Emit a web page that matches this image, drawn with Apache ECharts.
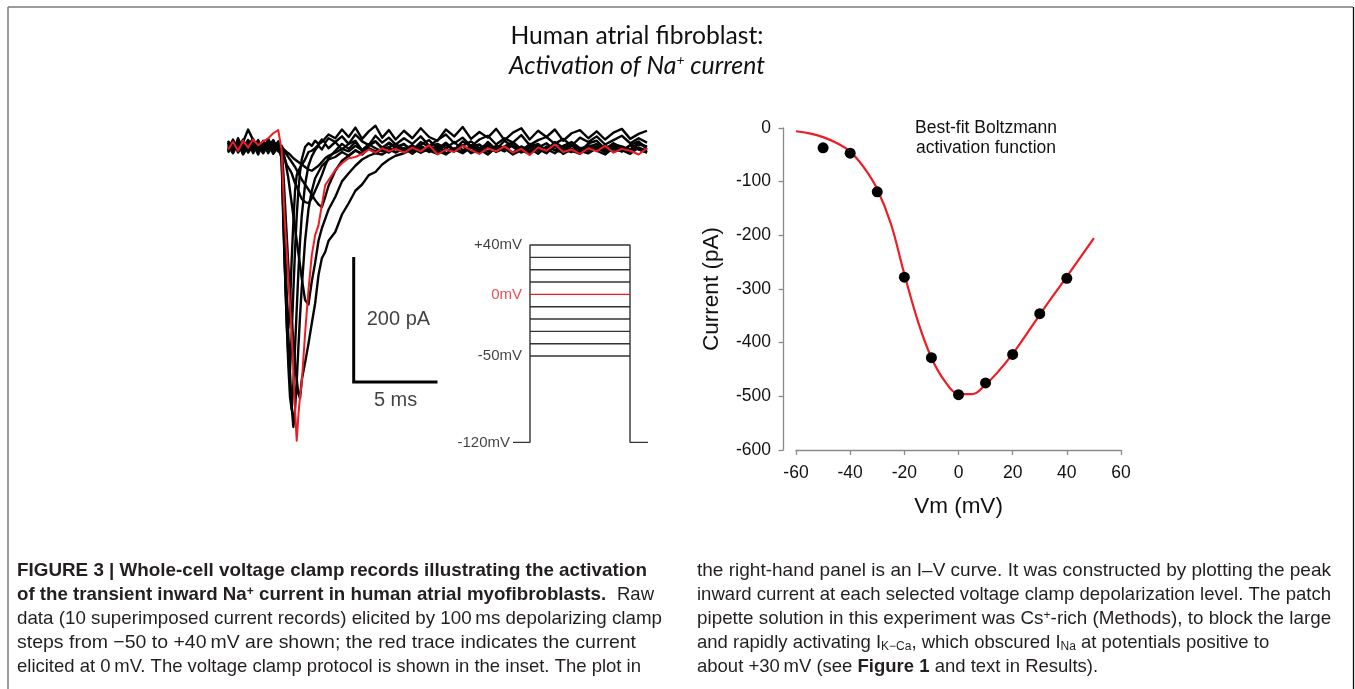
<!DOCTYPE html>
<html>
<head>
<meta charset="utf-8">
<title>Human atrial fibroblast: activation of Na+ current</title>
<script src="https://cdn.jsdelivr.net/npm/echarts@6/dist/echarts.min.js"></script>
<style>
  html, body { margin: 0; padding: 0; background: #fff; }
  #chart { width: 1355px; height: 689px; }
</style>
</head>
<body>
<div id="chart"></div>
<script>
// ---- raw current records (pA), sampled at TRACE_TIME_MS ----
const TRACE_TIME_MS = [0, 0.3, 0.6, 0.9, 1.2, 1.5, 1.8, 2.1, 2.4, 2.7, 3.0,
  3.2, 3.3, 3.4, 3.5, 3.6, 3.7, 3.8, 3.9, 4.0, 4.1, 4.2, 4.3, 4.4,
  4.6, 4.8, 5.0, 5.2, 5.4, 5.6, 5.8, 6.0,
  6.4, 6.8, 7.2, 7.6, 8.0, 8.4, 8.8, 9.2, 9.6, 10.0,
  10.5, 11, 11.5, 12, 12.5, 13, 13.5, 14, 14.5, 15, 15.5, 16, 16.5, 17, 17.5,
  18, 18.5, 19, 19.5, 20, 20.5, 21, 21.5, 22, 22.5, 23, 23.5, 24, 24.5, 25];

const CUR_P40 = [6, -9, 14, -4, 11, -10, 7, -6, 13, -3, 8,
  -20, -120, -200, -260, -290, -250, -180, -120, -70, -45, -38, -33, -30,
  -20, -8, -6, -2, 4, 8, 14, 20,
  14, 28, 16, 31, 13, 25, 34, 15, 27, 12,
  26, 14, 30, 16, 10, 28, 17, 32, 13, 24, 15, 29, 11, 23, 30, 12, 26, 16, 28, 10, 22, 27, 14, 25, 12, 23, 29, 13, 21, 26];
const CUR_P30 = [-7, 10, -3, 12, -9, 4, -12, 8, 0, 11, -5,
  -15, -110, -200, -280, -335, -357, -300, -230, -165, -110, -70, -40, -20,
  0, 6, 2, 10, 5, 12, 7, 14,
  8, 17, 5, 20, 9, 3, 18, 7, 15, 4,
  14, 5, 17, 2, 11, 20, 6, 15, 1, 12, 18, 4, 14, 7, 19, 3, 11, 16, 5, 13, 2, 15, 8, 17, 4, 11, 18, 6, 14, 7];
const CUR_P20 = [10, -4, 7, -12, 3, 13, -8, 5, -10, 4, -1,
  -10, -100, -190, -280, -350, -400, -420, -380, -320, -260, -200, -150, -110,
  -60, -30, -15, -5, 2, -4, 5, -2,
  8, -4, 5, 10, -6, 4, 9, -3, 7, 0,
  5, -8, 4, 11, -3, 7, -5, 9, 1, -7, 8, -4, 10, 0, -9, 5, 2, -5, 8, -1, 4, -8, 6, 10, -3, 5, -7, 3, 9, -4];
const CUR_P10 = [-3, 12, -9, 5, -5, 9, 2, -10, 8, -7, 4,
  -5, -80, -150, -230, -300, -360, -415, -448, -420, -375, -320, -270, -225,
  -150, -100, -70, -50, -40, -30, -25, -20,
  -16, -8, -14, -5, -12, -2, -10, -4, 0, -9,
  -2, -11, -1, -8, 2, -10, -4, 3, -9, -3, -12, 0, -6, 4, -8, -2, -11, 1, -5, -9, 2, -6, -10, -2, -8, 3, -5, -11, -1, -6];
const CUR_0 = [-4, 8, -6, 10, -1, 12, 3, 9, 14, 22, 27,
  -5, -69, -125, -165, -213, -253, -301, -357, -421, -470, -429, -398, -378,
  -298, -229, -173, -141, -125, -93, -61, -53,
  -37, -26, -18, -16, -11, -4, -9, -2, -7, -3,
  -9, -1, -7, 3, -12, -4, -8, 2, -5, -11, -2, -7, 1, -9, -3, -13, -1, -6, 4, -8, -4, -11, -2, -7, 2, -9, -3, -6, -12, -2];
const CUR_M10 = [7, -5, 10, -11, 1, -4, 11, -8, 5, -2, 9,
  -3, -40, -90, -140, -190, -235, -275, -310, -345, -372, -395, -402, -373,
  -345, -315, -282, -250, -205, -178, -168, -150,
  -136, -108, -90, -70, -60, -45, -40, -28, -20, -14,
  -10, -3, -9, 1, -6, -12, -2, -8, 3, -4, -11, -1, -7, 4, -6, -10, -2, -7, 2, -11, -3, -8, 1, -6, -12, -1, -7, 3, -4, -9];
const CUR_M20 = [-9, 4, -2, 8, 28, 11, -6, 3, -4, 10, -7,
  0, -10, -20, -35, -50, -70, -90, -110, -130, -150, -170, -190, -210,
  -245, -252, -215, -185, -150, -130, -115, -100,
  -80, -55, -42, -30, -20, -14, -10, -12, -5, -8,
  -2, -9, 2, -6, -11, -3, -7, 3, -10, -4, 1, -8, -2, -12, -5, 2, -7, -3, -10, 1, -6, -11, -1, -4, 3, -8, -3, -7, -1, -9];
const CUR_M30 = [3, -10, 6, -1, 11, -5, 8, -9, 4, -6, 1,
  0, -4, -8, -12, -16, -20, -24, -28, -32, -37, -42, -47, -52,
  -60, -68, -76, -85, -92, -96, -80, -62,
  -38, -22, -14, -6, -10, -2, -7, -4, -9, -1,
  -6, 1, -9, -3, -7, 3, -4, -10, -1, -8, 4, -5, -2, -9, 1, -7, -3, -10, 2, -4, -8, -2, -6, 1, -9, -3, -7, 3, -4, -8];
const CUR_M40 = [-5, 9, -1, 5, -8, 2, 10, -4, 6, -11, 0,
  0, -10, -20, -28, -33, -37, -42, -50, -58, -63, -70, -77, -83,
  -88, -90, -82, -70, -58, -45, -30, -18,
  -6, 5, -3, 8, -5, 2, 9, -1, 6, -2,
  4, -5, 8, 0, -4, 6, -7, 2, 9, -2, 5, -6, 1, 8, -4, 3, -1, 6, -5, 2, 8, -2, 0, 5, -6, 4, 1, -4, 7, 0];
const CUR_M50 = [8, -2, 4, -9, 6, 0, -5, 10, -1, 5, -4,
  2, -3, -6, -8, -10, -12, -15, -18, -20, -22, -24, -26, -28,
  -32, -36, -38, -34, -30, -24, -18, -14,
  -9, -3, -7, 2, -5, 4, -2, -7, 0, 5,
  -4, 3, -6, 1, 5, -2, 8, -5, 0, 4, -7, 2, -1, 6, -4, 0, 5, -6, 1, -2, 4, -5, 3, 0, -4, 6, -1, -5, 4, 1];

// black records first, the 0 mV record (red) drawn last
const BLACK_TRACES = [CUR_P40, CUR_P30, CUR_P20, CUR_P10, CUR_M10, CUR_M20, CUR_M30, CUR_M40, CUR_M50];
const RED_TRACE = CUR_0;

// scale bar
const SCALE_PA = 200;
const SCALE_MS = 5;

// voltage clamp protocol (inset)
const HOLD_MV = -120;
const STEP_LEVELS_MV = [-50, -40, -30, -20, -10, 0, 10, 20, 30, 40];
const PROTOCOL_T = [0, 17, 117, 135];   // sweep start, step on, step off, sweep end (ms)
const PROTOCOL_LABELS_MV = [40, 0, -50, -120];

// I-V relation
const IV_VM = [-50, -40, -30, -20, -10, 0, 10, 20, 30, 40];
const IV_PEAK_PA = [-37, -47, -119, -278, -428, -497, -475, -422, -346, -280];
// best-fit Boltzmann curve
const FIT_VM = [-60, -55, -50, -45, -40, -35, -30, -25, -20, -15, -10, -5, 0, 5, 10, 15, 20, 25, 30, 35, 40, 45, 50];
const FIT_PA = [-6, -10, -17, -28, -44, -73, -114, -178, -272, -360, -428, -472, -495, -496, -478, -452, -421, -385, -348, -312, -277, -241, -205];

const X_TICKS = { min: -60, max: 60, step: 20 };
const Y_TICKS = { min: -600, max: 0, step: 100 };

// ---- styling ----
const FONT = '"Liberation Sans", Arial, Helvetica, sans-serif';
const TITLE_FONT = 'Lato, "Open Sans", sans-serif';
const RED = '#ee1c24';
const AXIS_GRAY = '#8a8a8a';
const TEXT = '#231f20';
const CAP_SIZE = 18.5;

const zip = (xs, ys) => xs.map((x, i) => [x, ys[i]]);

const measureCtx = document.createElement('canvas').getContext('2d');
function textWidth(str, font) {
  measureCtx.font = font;
  return measureCtx.measureText(str).width;
}
// squeeze/stretch a text line so it spans the same width as in the figure
function fitScale(str, font, target) {
  return target / textWidth(str, font);
}

const chart = echarts.init(document.getElementById('chart'));

const traceSeries = BLACK_TRACES.map(values => ({
  type: 'line', xAxisIndex: 0, yAxisIndex: 0,
  data: zip(TRACE_TIME_MS, values),
  symbol: 'none', silent: true,
  lineStyle: { color: '#050505', width: 2.4, join: 'round' }
}));
traceSeries.push({
  type: 'line', xAxisIndex: 0, yAxisIndex: 0,
  data: zip(TRACE_TIME_MS, RED_TRACE),
  symbol: 'none', silent: true, z: 3,
  lineStyle: { color: RED, width: 2, join: 'round' }
});

// scale bar corner in trace coordinates
const SB_T = 7.5, SB_I = -376;

const scaleBarSeries = [
  {
    type: 'line', xAxisIndex: 0, yAxisIndex: 0, symbol: 'none', silent: true,
    data: [[SB_T, SB_I + SCALE_PA], [SB_T, SB_I], [SB_T + SCALE_MS, SB_I]],
    lineStyle: { color: '#000', width: 3, join: 'miter', cap: 'butt' }
  },
  {
    type: 'scatter', xAxisIndex: 0, yAxisIndex: 0, symbolSize: 0, silent: true,
    data: [
      { value: [SB_T, SB_I + SCALE_PA / 2], label: { position: 'right', distance: 13, formatter: SCALE_PA + ' pA' } },
      { value: [SB_T + SCALE_MS / 2, SB_I], label: { position: 'bottom', distance: 8, formatter: SCALE_MS + ' ms' } }
    ],
    label: { show: true, color: '#111', fontSize: 20, fontFamily: FONT }
  }
];

const [tStart, tOn, tOff, tEnd] = PROTOCOL_T;
const topMv = Math.max(...STEP_LEVELS_MV);
const protocolSeries = [
  {
    type: 'line', xAxisIndex: 1, yAxisIndex: 1, symbol: 'none', silent: true,
    data: [[tStart, HOLD_MV], [tOn, HOLD_MV], [tOn, topMv], [tOff, topMv], [tOff, HOLD_MV], [tEnd, HOLD_MV]],
    lineStyle: { color: '#333', width: 1.4 }
  },
  ...STEP_LEVELS_MV.filter(v => v !== topMv).map(v => ({
    type: 'line', xAxisIndex: 1, yAxisIndex: 1, symbol: 'none', silent: true,
    data: [[tOn, v], [tOff, v]],
    z: v === 0 ? 3 : 2,
    lineStyle: { color: v === 0 ? RED : '#333', width: 1.4 }
  })),
  {
    type: 'scatter', xAxisIndex: 1, yAxisIndex: 1, symbolSize: 0, silent: true,
    data: PROTOCOL_LABELS_MV.map(v => ({
      value: [v === HOLD_MV ? tStart : tOn, v],
      label: {
        formatter: (v > 0 ? '+' : '') + v + 'mV',
        color: v === 0 ? RED : '#111',
        distance: v === HOLD_MV ? 3 : 8
      }
    })),
    label: { show: true, position: 'left', fontSize: 15, fontFamily: FONT }
  }
];

const ivSeries = [
  {
    type: 'line', xAxisIndex: 2, yAxisIndex: 2, symbol: 'none', silent: true,
    data: zip(FIT_VM, FIT_PA), smooth: 0.4,
    lineStyle: { color: RED, width: 2.2 }
  },
  {
    type: 'scatter', xAxisIndex: 2, yAxisIndex: 2, silent: true,
    data: zip(IV_VM, IV_PEAK_PA), symbolSize: 11,
    itemStyle: { color: '#000', opacity: 1 }, z: 4
  }
];

// ---- texts ----
const titleFont1 = '25px ' + TITLE_FONT;
const titleFont2 = 'italic 25px ' + TITLE_FONT;
const capFont = CAP_SIZE + 'px ' + FONT;
const capBold = 'bold ' + CAP_SIZE + 'px ' + FONT;

function txt(x, y, text, extra, scaleX) {
  return {
    type: 'text', x, y, scaleX: scaleX || 1, silent: true,
    style: Object.assign({
      text, fill: TEXT, fontSize: CAP_SIZE, fontFamily: FONT,
      align: 'left', textAlign: 'left', verticalAlign: 'middle', textVerticalAlign: 'middle'
    }, extra || {})
  };
}
const RICH = {
  sup: { fontSize: 12, lineHeight: 12, verticalAlign: 'top', fontFamily: FONT, fill: TEXT, color: TEXT },
  bsup: { fontSize: 12, lineHeight: 12, verticalAlign: 'top', fontWeight: 'bold', fontFamily: FONT, fill: TEXT, color: TEXT },
  sub: { fontSize: 12, lineHeight: 12, verticalAlign: 'bottom', fontFamily: FONT, fill: TEXT, color: TEXT },
  b: { fontSize: CAP_SIZE, fontWeight: 'bold', fontFamily: FONT, fill: TEXT, color: TEXT }
};

const LX = 17, RX = 697;
const LINE_Y = [571, 595, 619, 643, 667];

// plain caption lines with the x where each one ends in the figure
const plainLine = (x, y, text, endX) => txt(x, y, text, null, fitScale(text, capFont, endX - x));

const l1 = 'FIGURE 3 | Whole-cell voltage clamp records illustrating the activation';
const l2 = 'of the transient inward Na+ current in human atrial myofibroblasts.';

const graphics = [
  // frame
  { type: 'line', silent: true, shape: { x1: 8, y1: 7, x2: 1353, y2: 7 }, style: { stroke: '#7a7a7a', lineWidth: 1.5 } },
  { type: 'line', silent: true, shape: { x1: 8, y1: 7, x2: 8, y2: 689 }, style: { stroke: '#7a7a7a', lineWidth: 1.5 } },
  { type: 'line', silent: true, shape: { x1: 1353.5, y1: 7, x2: 1353.5, y2: 689 }, style: { stroke: '#111', lineWidth: 1.3 } },
  // title
  txt(637, 36, 'Human atrial fibroblast:', { fontSize: 25, fontFamily: TITLE_FONT, fill: '#111', align: 'center', textAlign: 'center' },
    fitScale('Human atrial fibroblast:', titleFont1, 253)),
  txt(637, 66, 'Activation of Na{sup|+} current', {
    fontSize: 25, fontFamily: TITLE_FONT, fontStyle: 'italic', fill: '#111', align: 'center', textAlign: 'center',
    rich: { sup: { fontSize: 14, lineHeight: 14, verticalAlign: 'top', fontStyle: 'italic', fontFamily: TITLE_FONT, fill: '#111' } }
  }, fitScale('Activation of Na current', titleFont2, 248)),
  // annotation in the I-V panel
  txt(986, 128, 'Best-fit Boltzmann', { fontSize: 17.5, fill: '#111', align: 'center', textAlign: 'center' }),
  txt(986, 148, 'activation function', { fontSize: 17.5, fill: '#111', align: 'center', textAlign: 'center' }),
  // caption, left column
  txt(LX, LINE_Y[0], l1, { fontWeight: 'bold' }, fitScale(l1, capBold, 630)),
  txt(LX, LINE_Y[1], 'of the transient inward Na{bsup|+} current in human atrial myofibroblasts.',
    { fontWeight: 'bold', rich: RICH }, fitScale(l2, capBold, 593)),
  txt(617, LINE_Y[1], 'Raw'),
  plainLine(LX, LINE_Y[2], 'data (10 superimposed current records) elicited by 100\u2009ms depolarizing clamp', 662),
  plainLine(LX, LINE_Y[3], 'steps from \u221250 to +40\u2009mV are shown; the red trace indicates the current', 636),
  plainLine(LX, LINE_Y[4], 'elicited at 0\u2009mV. The voltage clamp protocol is shown in the inset. The plot in', 641),
  // caption, right column
  plainLine(RX, LINE_Y[0], 'the right-hand panel is an I\u2013V curve. It was constructed by plotting the peak', 1331),
  plainLine(RX, LINE_Y[1], 'inward current at each selected voltage clamp depolarization level. The patch', 1331),
  txt(RX, LINE_Y[2], 'pipette solution in this experiment was Cs{sup|+}-rich (Methods), to block the large', { rich: RICH },
    fitScale('pipette solution in this experiment was Cs+-rich (Methods), to block the large', capFont, 1335 - RX)),
  txt(RX, LINE_Y[3], 'and rapidly activating I{sub|K\u2212Ca}, which obscured I{sub|Na} at potentials positive to', { rich: RICH }),
  txt(RX, LINE_Y[4], 'about +30\u2009mV (see {b|Figure 1} and text in Results).', { rich: RICH })
];

const hidden = { show: false };
const axisLineStyle = { color: AXIS_GRAY, width: 1.3 };

chart.setOption({
  animation: false,
  backgroundColor: '#fff',
  grid: [
    { left: 228, top: 122, width: 419, height: 375, outerBoundsMode: 'none' },
    { left: 513, top: 232.7, width: 135, height: 222, outerBoundsMode: 'none' },
    { left: 796, top: 128, width: 325, height: 322, outerBoundsMode: 'none' }
  ],
  xAxis: [
    { gridIndex: 0, type: 'value', min: 0, max: 25, axisLine: hidden, axisTick: hidden, axisLabel: hidden, splitLine: hidden },
    { gridIndex: 1, type: 'value', min: 0, max: 135, axisLine: hidden, axisTick: hidden, axisLabel: hidden, splitLine: hidden },
    {
      gridIndex: 2, type: 'value', min: X_TICKS.min, max: X_TICKS.max, interval: X_TICKS.step,
      name: 'Vm (mV)', nameLocation: 'middle', nameGap: 45,
      nameTextStyle: { fontSize: 22.5, color: '#111', fontFamily: FONT },
      axisLine: { onZero: false, lineStyle: axisLineStyle },
      axisTick: { length: 5, lineStyle: axisLineStyle },
      axisLabel: { margin: 14, fontSize: 17.5, color: '#111', fontFamily: FONT },
      splitLine: hidden
    }
  ],
  yAxis: [
    { gridIndex: 0, type: 'value', min: -560, max: 40, axisLine: hidden, axisTick: hidden, axisLabel: hidden, splitLine: hidden },
    { gridIndex: 1, type: 'value', min: -130, max: 50, axisLine: hidden, axisTick: hidden, axisLabel: hidden, splitLine: hidden },
    {
      gridIndex: 2, type: 'value', min: Y_TICKS.min, max: Y_TICKS.max, interval: Y_TICKS.step, offset: 13,
      name: 'Current (pA)', nameLocation: 'middle', nameGap: 60,
      nameTextStyle: { fontSize: 22.5, color: '#111', fontFamily: FONT },
      axisLine: { onZero: false, lineStyle: axisLineStyle },
      axisTick: { length: 4.5, lineStyle: axisLineStyle },
      axisLabel: { margin: 12, fontSize: 17.5, color: '#111', fontFamily: FONT },
      splitLine: hidden
    }
  ],
  series: [...traceSeries, ...scaleBarSeries, ...protocolSeries, ...ivSeries],
  graphic: graphics
});
</script>
</body>
</html>
